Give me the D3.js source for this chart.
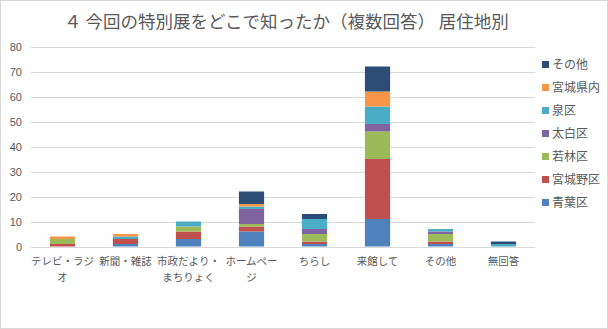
<!DOCTYPE html>
<html>
<head>
<meta charset="utf-8">
<script src="https://cdn.jsdelivr.net/npm/d3@7"></script>
<style>
  body { margin: 0; background: #fff; }
  svg { display: block; font-family: "Noto Sans CJK JP", "Noto Sans", sans-serif; }
</style>
</head>
<body>
<div id="chart"></div>
<script>
// categories (x axis) and label lines as they wrap in the picture
var categories = ["テレビ・ラジオ", "新聞・雑誌", "市政だより・まちりょく", "ホームページ", "ちらし", "来館して", "その他", "無回答"];
var tickLabels = ["テレビ・ラジ\nオ", "新聞・雑誌", "市政だより・\nまちりょく", "ホームペー\nジ", "ちらし", "来館して", "その他", "無回答"];

// series, bottom to top
var seriesNames = ["青葉区", "宮城野区", "若林区", "太白区", "泉区", "宮城県内", "その他"];
var aoba      = [0, 1, 3, 6, 1, 11, 1, 0];
var miyagino  = [1, 2, 3, 2, 1, 24, 1, 0];
var wakabayashi = [2, 0, 2, 1, 3, 11, 3, 0];
var taihaku   = [0, 0, 0, 6, 2, 3, 1, 0];
var izumi     = [0, 1, 2, 1, 4, 7, 1, 1];
var kennai    = [1, 1, 0, 1, 0, 6, 0, 0];
var sonota    = [0, 0, 0, 5, 2, 10, 0, 1];
var yTicks = [0, 10, 20, 30, 40, 50, 60, 70, 80];

var colors = ["#4F81BD", "#C0504D", "#9BBB59", "#8064A2", "#4BACC6", "#F79646", "#2C4D75"];
var seriesValues = [aoba, miyagino, wakabayashi, taihaku, izumi, kennai, sonota];

var width = 608, height = 329;
var svg = d3.select("#chart").append("svg")
  .attr("width", width)
  .attr("height", height);

svg.append("rect")
  .attr("x", 0.5).attr("y", 0.5)
  .attr("width", width - 1).attr("height", height - 1)
  .attr("fill", "#fff")
  .attr("stroke", "#D9D9D9");

svg.append("text")
  .attr("x", 64)
  .attr("y", 28)
  .attr("font-size", 17.5)
  .attr("fill", "#595959")
  .text("４ 今回の特別展をどこで知ったか（複数回答） 居住地別");

var x = d3.scaleBand()
  .domain(categories)
  .range([31, 535])
  .paddingInner(0.6)
  .paddingOuter(0.3);

var y = d3.scaleLinear()
  .domain([0, 80])
  .range([246.5, 46.5]);

// gridlines
svg.append("g")
  .selectAll("line")
  .data(yTicks)
  .enter()
  .append("line")
  .attr("x1", 31).attr("x2", 535)
  .attr("y1", d => Math.round(y(d)) + 0.5)
  .attr("y2", d => Math.round(y(d)) + 0.5)
  .attr("stroke", "#D9D9D9");

// y labels
svg.append("g")
  .selectAll("text")
  .data(yTicks)
  .enter()
  .append("text")
  .attr("x", 22)
  .attr("y", d => y(d) + 4)
  .attr("text-anchor", "end")
  .attr("font-size", 11)
  .attr("fill", "#595959")
  .attr("font-family", "Liberation Sans, sans-serif")
  .text(d => d);

var table = categories.map((c, i) => {
  var row = { cat: c };
  seriesNames.forEach((s, j) => row[s] = seriesValues[j][i]);
  return row;
});
var stacked = d3.stack().keys(seriesNames)(table);

svg.append("g")
  .selectAll("g")
  .data(stacked)
  .enter()
  .append("g")
  .attr("fill", (d, i) => colors[i])
  .selectAll("rect")
  .data(d => d)
  .enter()
  .append("rect")
  .attr("x", d => x(d.data.cat))
  .attr("width", x.bandwidth())
  .attr("y", d => y(d[1]))
  .attr("height", d => y(d[0]) - y(d[1]));

// x labels
var xl = svg.append("g")
  .selectAll("text")
  .data(categories)
  .enter()
  .append("text")
  .attr("text-anchor", "middle")
  .attr("font-size", 10.5)
  .attr("fill", "#595959");

xl.each(function(d, i) {
  var lines = tickLabels[i].split("\n");
  var t = d3.select(this);
  lines.forEach((ln, k) => {
    t.append("tspan")
      .attr("x", x(d) + x.bandwidth() / 2)
      .attr("y", 265 + k * 16)
      .text(ln);
  });
});

// legend
var legendOrder = seriesNames.map((s, i) => i).reverse();
var lg = svg.append("g")
  .selectAll("g")
  .data(legendOrder)
  .enter()
  .append("g")
  .attr("transform", (d, k) => `translate(542, ${65 + k * 23})`);

lg.append("rect")
  .attr("x", 0).attr("y", -4)
  .attr("width", 7).attr("height", 7)
  .attr("fill", d => colors[d]);

lg.append("text")
  .attr("x", 10)
  .attr("y", 4)
  .attr("font-size", 12)
  .attr("fill", "#595959")
  .text(d => seriesNames[d]);
</script>
</body>
</html>
